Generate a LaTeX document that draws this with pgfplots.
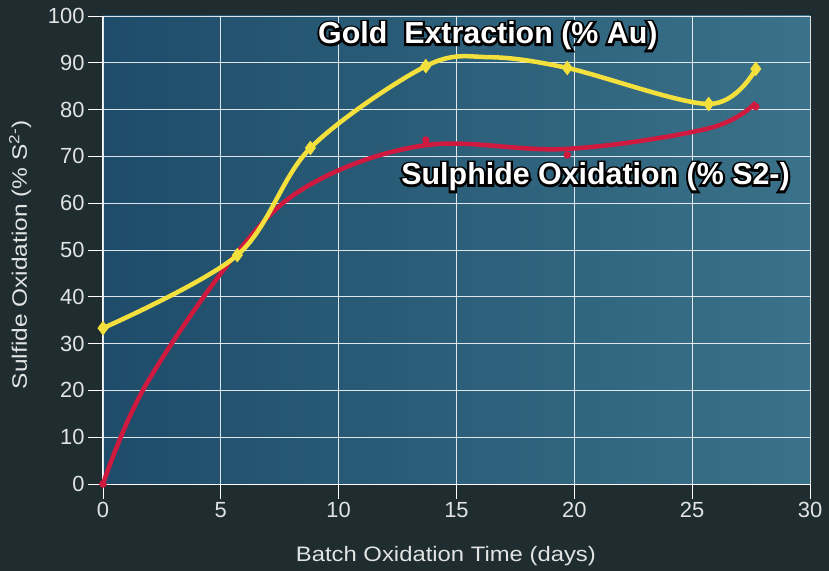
\documentclass[border=0pt]{standalone}
\usepackage{pgfplots}
\pgfplotsset{compat=1.18}
\usepackage{fontspec}
\setmainfont{Liberation Sans}
\newfontfamily\outlfont[RawFeature={embolden=14}]{Liberation Sans Bold}
\newfontfamily\boldfont{Liberation Sans Bold}
\usetikzlibrary{backgrounds}
\definecolor{pagebg}{HTML}{1F2C30}
\definecolor{plotL}{HTML}{1E4C6A}
\definecolor{plotR}{HTML}{3A7289}
\definecolor{goldc}{HTML}{F3E03C}
\definecolor{redc}{HTML}{D0193E}
\definecolor{txt}{HTML}{E2E4E4}
\begin{document}
\begin{tikzpicture}
\begin{axis}[
  width=707bp, height=468bp, scale only axis,
  at={(0,0)}, anchor=south west,
  xmin=0, xmax=30, ymin=0, ymax=100,
  xtick={0,5,...,30}, ytick={0,10,...,100},
  grid=major,
  major grid style={white, line width=0.9bp, opacity=0.85},
  axis x line*=bottom, axis y line*=left,
  axis line style={white, line width=1bp, -},
  tick align=outside, major tick length=15bp,
  tick style={white, line width=0.9bp},
  ticklabel style={font=\fontsize{22}{24}\selectfont, text=txt},
  /pgf/number format/assume math mode=true,
  axis background/.style={left color=plotL, right color=plotR},
  xlabel={\scalebox{1.14}[1]{Batch Oxidation Time (days)}},
  ylabel={\scalebox{1.17}[1]{Sulfide Oxidation (\% S\textsuperscript{2-})}},
  xlabel style={font=\fontsize{21}{24}\selectfont, text=txt, at={(axis description cs:0.485,-0.154)}, anchor=center},
  ylabel style={font=\fontsize{21}{24}\selectfont, text=txt, at={(axis description cs:-0.117,0.49)}, anchor=center},
  clip=false,
]
\addplot[redc, line width=4.5bp, smooth, tension=0.6] coordinates {
  (0,0) (1.8,21) (5.7,49.5) (8.8,64) (13.7,72.4) (19.7,71.6) (25.7,76) (27.7,81.5)};
\addplot[redc, only marks, mark=*, mark size=3.5bp] coordinates {
  (0,0) (13.7,73.5) (19.7,70.3) (27.7,80.6)};
\addplot[goldc, line width=4.5bp, smooth, tension=0.55] coordinates {
  (0,33.3) (5.7,48.9) (8.8,71.8) (13.7,89.3) (16.4,91.2) (19.7,88.9) (25.7,81.2) (27.7,88.7)};
\addplot[goldc, only marks, mark=diamond*, mark size=7bp] coordinates {
  (0,33.3) (5.7,48.9) (8.8,71.8) (13.7,89.3) (19.7,88.9) (25.7,81.2) (27.7,88.7)};
\coordinate (gpos) at (axis cs:16.33,95.7);
\coordinate (spos) at (axis cs:20.9,65.6);
\end{axis}
\node[text=black, font=\outlfont\fontsize{30.5}{33}\selectfont] at (gpos) {Gold\ \ Extraction (\% Au)};
\node[text=black, font=\outlfont\fontsize{30.5}{33}\selectfont] at (spos) {Sulphide Oxidation (\% S2-)};
\node[text=white, font=\boldfont\fontsize{30.5}{33}\selectfont] at (gpos) {Gold\ \ Extraction (\% Au)};
\node[text=white, font=\boldfont\fontsize{30.5}{33}\selectfont] at (spos) {Sulphide Oxidation (\% S2-)};
\begin{pgfonlayer}{background}
\fill[pagebg] (-103bp,-87bp) rectangle (726bp,484bp);
\end{pgfonlayer}
\pgfresetboundingbox
\path[use as bounding box] (-103bp,-87bp) rectangle (726bp,484bp);
\end{tikzpicture}
\end{document}
